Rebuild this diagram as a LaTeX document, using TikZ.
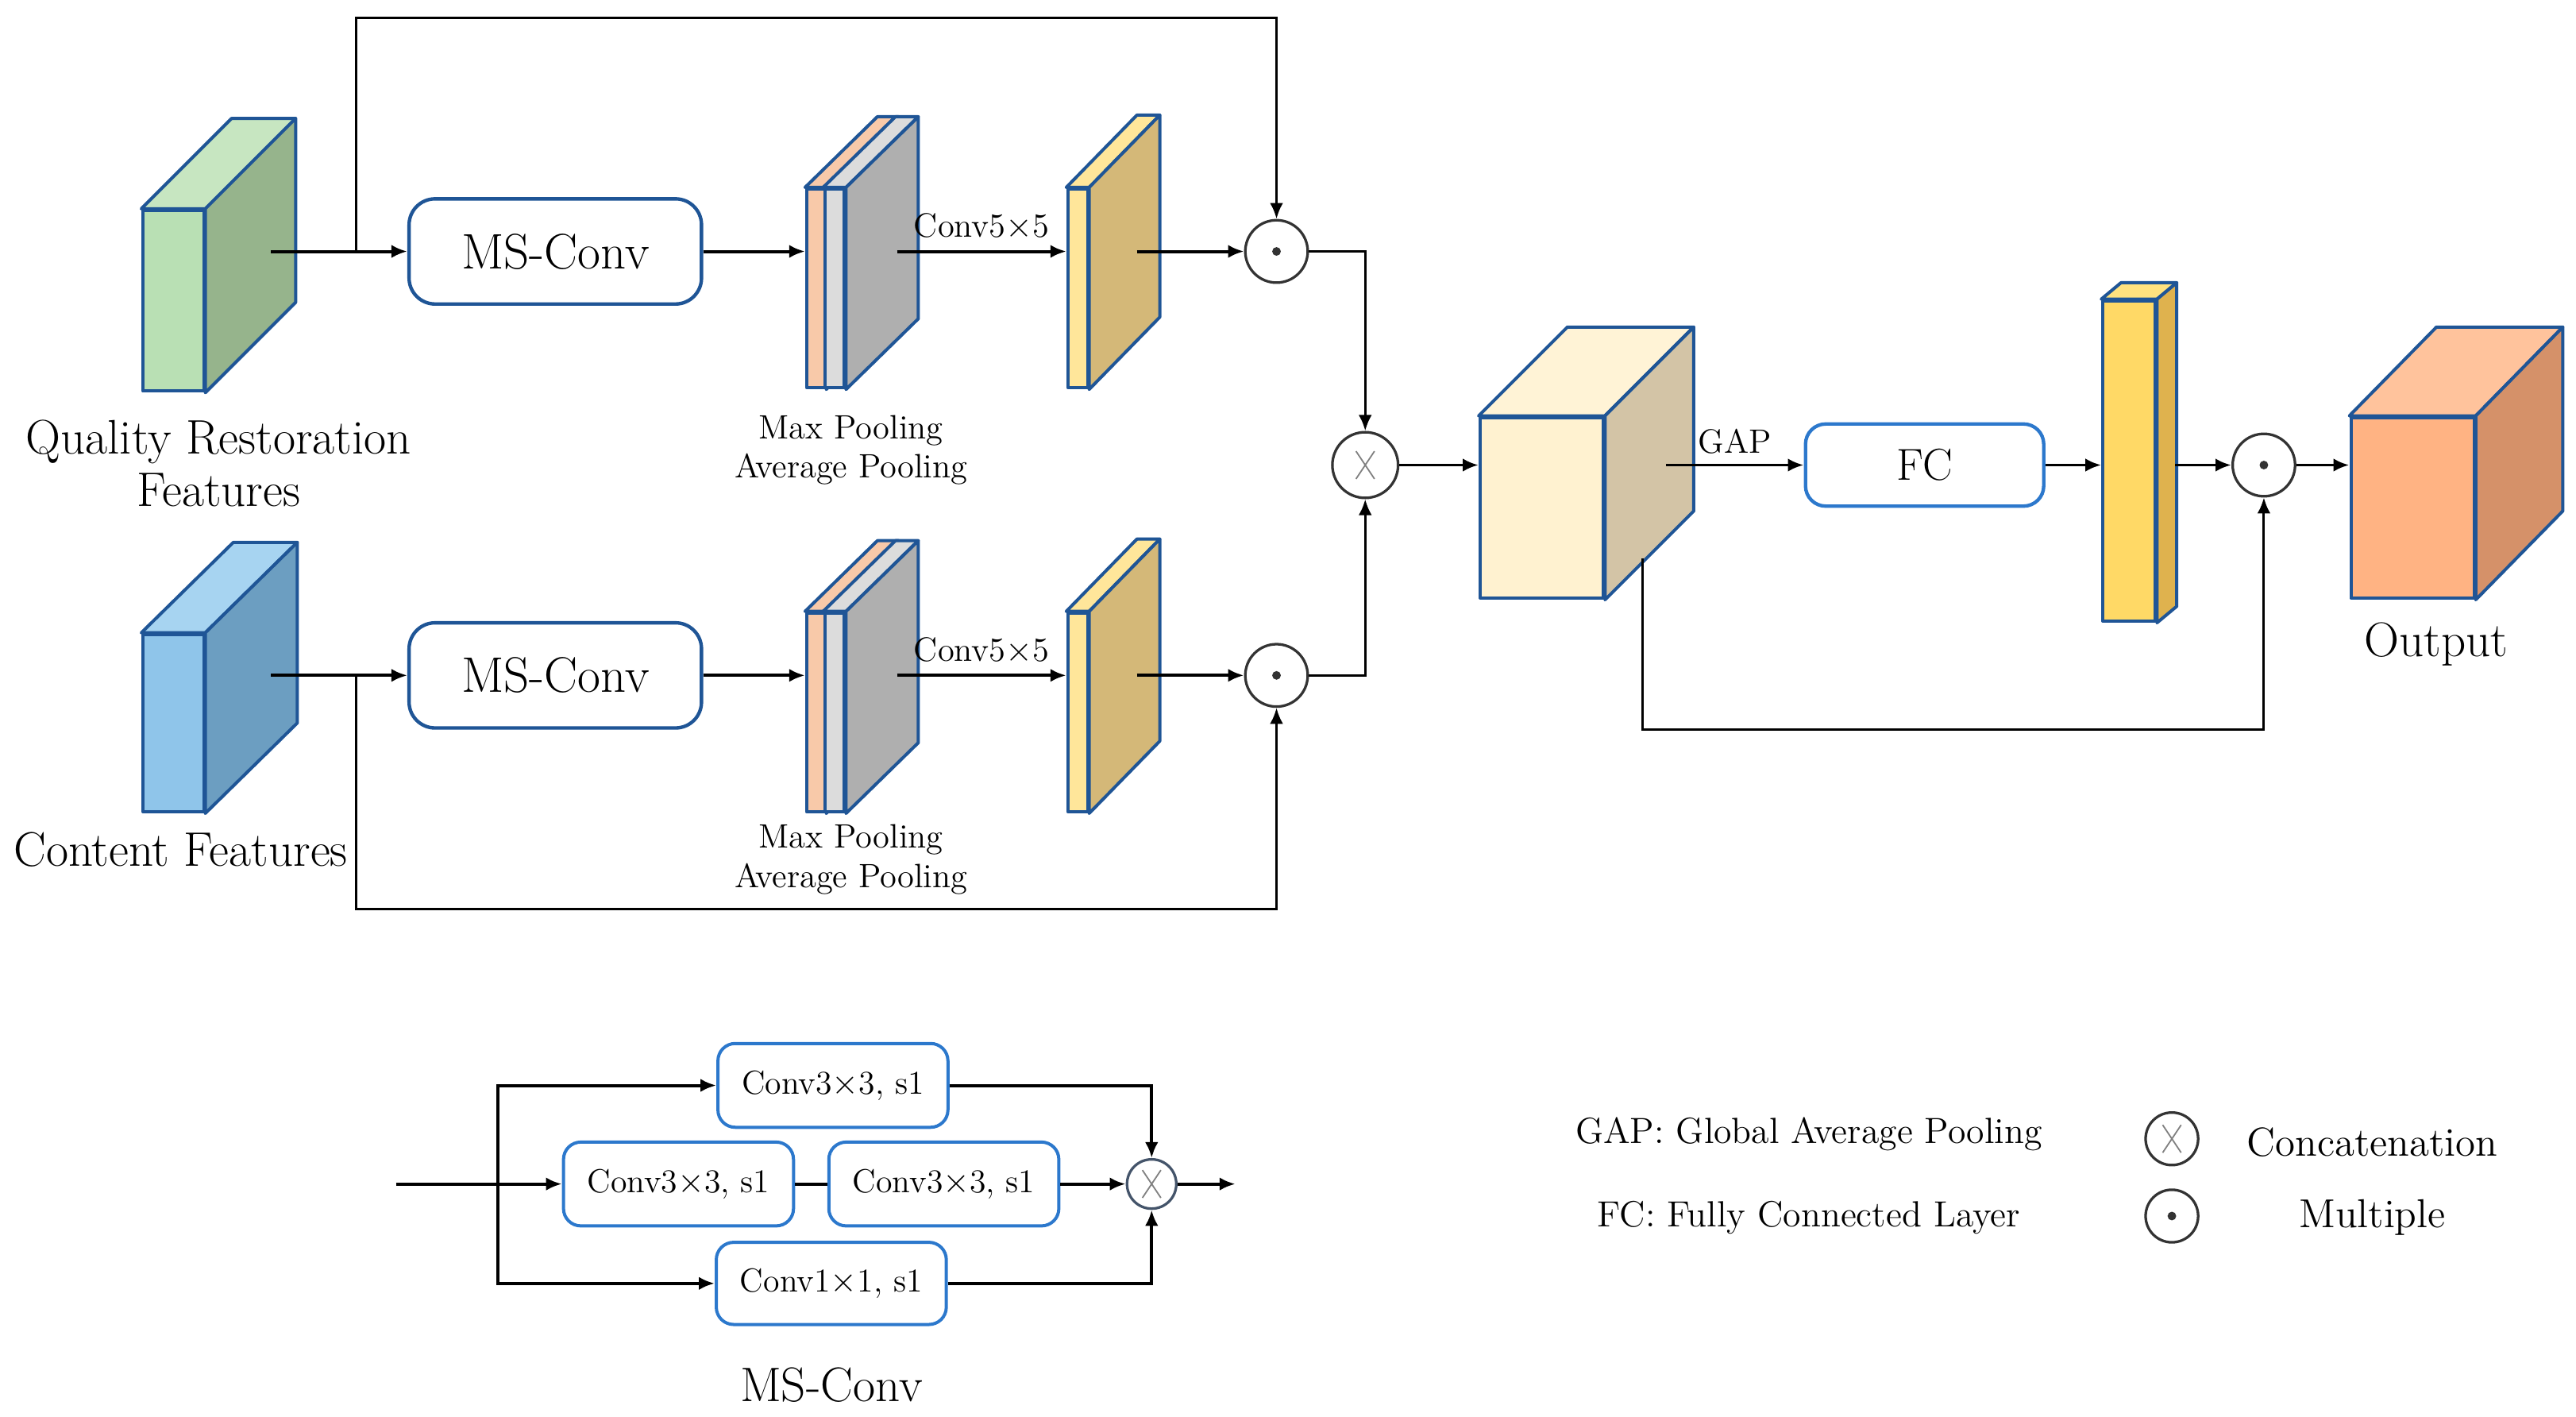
\documentclass[tikz,border=0pt]{standalone}
\usepackage{amsmath}
\usetikzlibrary{arrows,arrows.meta}

\definecolor{edgeblue}{HTML}{1F5596}
\definecolor{boxblue}{HTML}{2C78CC}
\definecolor{opgray}{HTML}{333333}
\definecolor{slate}{HTML}{44546A}
\definecolor{qrfront}{HTML}{B9E0B4}
\definecolor{qrtop}{HTML}{C7E6C1}
\definecolor{qrside}{HTML}{96B48C}
\definecolor{cffront}{HTML}{8FC5EA}
\definecolor{cftop}{HTML}{A7D4F1}
\definecolor{cfside}{HTML}{6C9EC1}
\definecolor{peach}{HTML}{F8C9A9}
\definecolor{poolgray}{HTML}{DCDCDC}
\definecolor{midgray}{HTML}{AFAFAF}
\definecolor{slabfront}{HTML}{FFE69A}
\definecolor{slabside}{HTML}{D4B878}
\definecolor{fusefront}{HTML}{FFF2D0}
\definecolor{fusetop}{HTML}{FFF3D6}
\definecolor{fuseside}{HTML}{D3C4A6}
\definecolor{barfront}{HTML}{FFD966}
\definecolor{bartop}{HTML}{FFE27F}
\definecolor{barside}{HTML}{DFB24E}
\definecolor{outfront}{HTML}{FFB383}
\definecolor{outtop}{HTML}{FFC39C}
\definecolor{outright}{HTML}{D59169}

% top and side faces of a block whose front face is a node
\newcommand{\cubefaces}[5]{%
  \draw[face, fill=#4] (#1.north west) -- ([shift={(#2,#3)}]#1.north west)
    -- ([shift={(#2,#3)}]#1.north east) -- (#1.north east) -- cycle;
  \draw[face, fill=#5] (#1.north east) -- ([shift={(#2,#3)}]#1.north east)
    -- ([shift={(#2,#3)}]#1.south east) -- (#1.south east) -- cycle;
}

\begin{document}
\begin{tikzpicture}[x=0.02cm,y=-0.02cm,>={Latex[length=5.5pt,width=4.6pt]},
    dims/.style 2 args={minimum width=#1*0.02cm,minimum height=#2*0.02cm},
    face/.style={draw=edgeblue,line width=1.1pt,line join=round},
    frontface/.style={face,inner sep=0pt},
    flow/.style={->,line width=1.1pt},
    skipline/.style={->,line width=0.85pt},
    msbox/.style={draw=edgeblue,line width=1.2pt,rounded corners=9pt,inner sep=0pt,
                  dims={178}{64},font=\fontsize{17.3}{20}\selectfont},
    fcbox/.style={draw=boxblue,line width=1.2pt,rounded corners=7pt,inner sep=0pt,
                  font=\fontsize{15.5}{18}\selectfont},
    convbox/.style={draw=boxblue,line width=1.1pt,rounded corners=6pt,inner sep=0pt,
                  dims={140}{51},font=\fontsize{11.5}{14}\selectfont},
    op/.style={circle,draw=opgray,line width=0.9pt,fill=white,inner sep=0pt,minimum size=#1*0.02cm},
    dotop/.style={op=#1,path picture={\fill[opgray] (path picture bounding box.center) circle (1.5pt);}},
    crossop/.style={op=#1,path picture={
        \draw[gray,line width=0.5pt]
          ([shift={(-3.2pt,-4.8pt)}]path picture bounding box.center) -- ([shift={(3.2pt,4.8pt)}]path picture bounding box.center)
          ([shift={(-3.2pt,4.8pt)}]path picture bounding box.center) -- ([shift={(3.2pt,-4.8pt)}]path picture bounding box.center);}},
    caption/.style={font=\fontsize{16.8}{18.2}\selectfont,align=center},
    smalltext/.style={font=\fontsize{11.7}{13.6}\selectfont,align=center},
    legendtext/.style={font=\fontsize{12.6}{15}\selectfont},
    keytext/.style={font=\fontsize{14}{16}\selectfont}]

  \useasboundingbox (0,0) rectangle (1568,862);

  % input features
  \node[frontface,fill=qrfront,dims={37}{110}] (qr) at (105.5,183) {};
  \cubefaces{qr}{55}{-55}{qrtop}{qrside}
  \node[frontface,fill=cffront,dims={37}{108}] (cf) at (105.5,440) {};
  \cubefaces{cf}{56}{-55}{cftop}{cfside}
  \node[caption] (qrlabel) at (133,282) {Quality Restoration\\Features};
  \node[caption] (cflabel) at (110,517) {Content Features};

  \node[msbox] (msc1) at (338,153) {MS-Conv};
  \node[msbox] (msc2) at (338,411) {MS-Conv};

  % pooling and conv5x5 maps
  \foreach \r/\y in {1/175.5,2/433.5} {
    \node[frontface,fill=peach,dims={11}{121}] (pmax\r) at (496.5,\y) {};
    \cubefaces{pmax\r}{44}{-43}{peach}{peach}
    \node[frontface,fill=poolgray,dims={12}{121}] (pavg\r) at (508,\y) {};
    \cubefaces{pavg\r}{44}{-43}{poolgray}{midgray}
    \node[frontface,fill=slabfront,dims={12}{121}] (conv\r) at (656,\y) {};
    \cubefaces{conv\r}{43}{-44}{slabfront}{slabside}
  }
  \node[smalltext] (pool1label) at (518,274) {Max Pooling\\Average Pooling};
  \node[smalltext] (pool2label) at (518,523) {Max Pooling\\Average Pooling};

  \node[dotop=38] (mul1) at (777,153) {};
  \node[dotop=38] (mul2) at (777,411) {};
  \node[crossop=40] (cat) at (831,283) {};

  % fusion branch
  \node[frontface,fill=fusefront,dims={75}{110}] (fuse) at (938.5,309) {};
  \cubefaces{fuse}{54}{-54}{fusetop}{fuseside}
  \node[fcbox,dims={145}{50}] (fc) at (1171.5,283) {FC};
  \node[frontface,fill=barfront,dims={32}{195}] (bar) at (1296,280.5) {};
  \cubefaces{bar}{12}{-10}{bartop}{barside}
  \node[dotop=38] (mul3) at (1378,283) {};
  \node[frontface,fill=outfront,dims={75}{110}] (out) at (1468.5,309) {};
  \cubefaces{out}{53}{-54}{outtop}{outright}
  \node[caption] (outlabel) at (1483,392) {Output};

  \coordinate (qr out) at (165,153);
  \coordinate (qr split) at (217,153);
  \coordinate (cf out) at (165,411);
  \coordinate (cf split) at (217,411);
  \coordinate (pool1 out) at (546,153);
  \coordinate (pool2 out) at (546,411);
  \coordinate (conv1 out) at (692,153);
  \coordinate (conv2 out) at (692,411);
  \coordinate (fuse out) at (1014,283);
  \coordinate (fuse skip) at (1000,340);
  \coordinate (bar out) at (1324,283);

  \draw[flow] (qr out) -- (msc1.west);
  \draw[flow] (cf out) -- (msc2.west);
  \foreach \r in {1,2} {
    \draw[flow] (msc\r.east) -- (msc\r.east -| pmax\r.west);
    \draw[flow] (pool\r\space out) -- (pool\r\space out -| conv\r.west)
      node[midway,above,smalltext] (k5\r) {Conv5$\times$5};
    \draw[flow] (conv\r\space out) -- (mul\r.west);
  }
  \draw[skipline] (qr split) -- ++(0,-142) -| (mul1.north);
  \draw[skipline] (cf split) -- ++(0,142) -| (mul2.south);
  \draw[skipline] (mul1.east) -| (cat.north);
  \draw[skipline] (mul2.east) -| (cat.south);
  \draw[flow] (cat.east) -- (cat.east -| fuse.west);
  \draw[flow] (fuse out) -- (fc.west) node[midway,above,smalltext] (gaplabel) {GAP};
  \draw[flow] (fc.east) -- (fc.east -| bar.west);
  \draw[flow] (bar out) -- (mul3.west);
  \draw[flow] (mul3.east) -- (mul3.east -| out.west);
  \draw[skipline] (fuse skip) -- ++(0,104) -| (mul3.south);

  % MS-Conv block
  \node[convbox] (k3a) at (507,660.5) {Conv3$\times$3, s1};
  \node[convbox] (k3b) at (413,720.5) {Conv3$\times$3, s1};
  \node[convbox] (k3c) at (574.5,720.5) {Conv3$\times$3, s1};
  \node[convbox,dims={140}{50}] (k1) at (506,781) {Conv1$\times$1, s1};
  \node[crossop=30,draw=slate] (catm) at (701,720.5) {};
  \node[caption] (mslabel) at (506,843) {MS-Conv};
  \coordinate (ms in) at (241,720.5);
  \coordinate (ms split) at (303,720.5);
  \coordinate (ms out) at (752,720.5);

  \draw[flow] (ms in) -- (k3b.west);
  \draw[flow] (ms split) |- (k3a.west);
  \draw[flow] (ms split) |- (k1.west);
  \draw[line width=1.1pt] (k3b.east) -- (k3c.west);
  \draw[flow] (k3c.east) -- (catm.west);
  \draw[flow] (k3a.east) -| (catm.north);
  \draw[flow] (k1.east) -| (catm.south);
  \draw[flow] (catm.east) -- (ms out);

  % legend
  \node[legendtext] (gapdef) at (1101,690) {GAP: Global Average Pooling};
  \node[legendtext] (fcdef) at (1101,741) {FC: Fully Connected Layer};
  \node[crossop=32] (catkey) at (1322,693) {};
  \node[dotop=32] (mulkey) at (1322,740) {};
  \node[keytext] (catdef) at (1444,695) {Concatenation};
  \node[keytext] (muldef) at (1444,741) {Multiple};
\end{tikzpicture}
\end{document}
